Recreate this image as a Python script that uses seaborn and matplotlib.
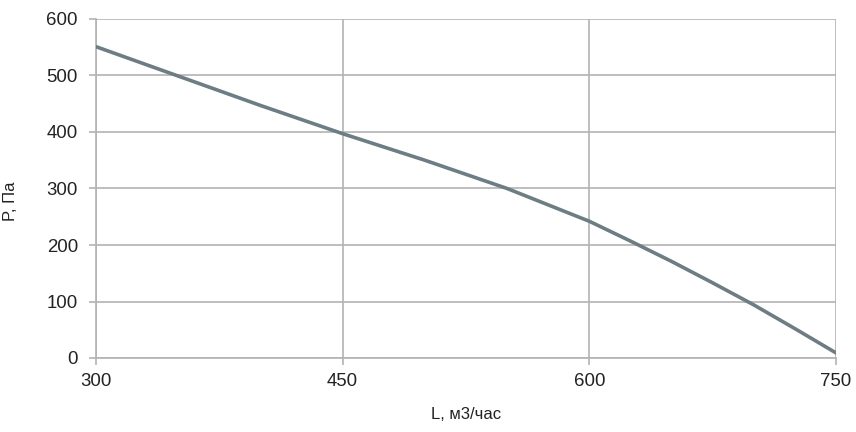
import matplotlib
matplotlib.use("Agg")
import matplotlib.pyplot as plt
import seaborn as sns
import pandas as pd

# flow, m3/h and pressure, Pa
flow = [300, 350, 400, 450, 500, 550, 600, 625, 650, 675, 700, 725, 750]
pressure = [551, 499, 447, 397, 350, 300, 242, 207, 171, 133, 94, 52, 9]
x_ticks = [300, 450, 600, 750]
y_ticks = [0, 100, 200, 300, 400, 500, 600]

sns.set_theme(style="white")
plt.rcParams['font.family'] = ['Liberation Sans', 'DejaVu Sans']

df = pd.DataFrame({"L": flow, "P": pressure})

grid_col = "#b3b3b3"
fig = plt.figure(figsize=(8.56, 4.32), dpi=100)
ax = fig.add_axes([96/856, 1 - 358/432, 740/856, 339/432])

sns.lineplot(data=df, x="L", y="P", ax=ax, color="#6d7d83", linewidth=2.6,
             zorder=3)

ax.set_xlim(300, 750)
ax.set_ylim(0, 600)
ax.set_xticks(x_ticks)
ax.set_yticks(y_ticks)
ax.grid(True, color=grid_col, linewidth=1.2)
ax.set_axisbelow(True)

for s in ["top", "right"]:
    ax.spines[s].set_visible(False)
for s in ["left", "bottom"]:
    ax.spines[s].set_color(grid_col)
    ax.spines[s].set_linewidth(1.2)

ax.tick_params(axis="both", direction="out", length=5, width=1.2,
               color=grid_col, labelsize=13.4, labelcolor="#222222",
               left=True, bottom=True)
ax.tick_params(axis="y", pad=8)
ax.tick_params(axis="x", pad=6)

ax.set_xlabel("L, м3/час", fontsize=12, color="#222222")
ax.set_ylabel("P, Па", fontsize=12, color="#222222")
ax.xaxis.set_label_coords(0.5, -(407 - 358) / 339)
ax.yaxis.set_label_coords((18 - 96) / 740, (358 - 201) / 339)

fig.savefig("out.png", dpi=100)
plt.close()
